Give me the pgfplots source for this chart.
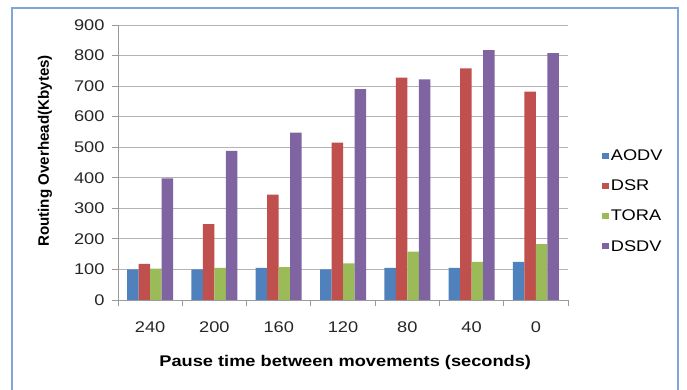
\documentclass[border=0pt]{standalone}
\usepackage{pgfplots}
\pgfplotsset{compat=1.18}
\usepackage{fontspec}
\setmainfont[FakeStretch=1.18]{Liberation Sans}
\newfontfamily\ylabfont{Liberation Sans}
\definecolor{aodv}{HTML}{4F81BD}
\definecolor{dsr}{HTML}{C0504D}
\definecolor{tora}{HTML}{9BBB59}
\definecolor{dsdv}{HTML}{8064A2}
\definecolor{framec}{HTML}{7EA6DA}
\definecolor{gridc}{HTML}{B4B4B4}
\definecolor{axisc}{HTML}{9A9A9A}
\begin{document}
\begin{tikzpicture}
\useasboundingbox (0bp,0bp) rectangle (687bp,390bp);
\draw[color=framec, line width=2.5bp] (12bp,-10bp) rectangle (678bp,382bp);
\begin{axis}[
  at={(118bp,90bp)}, anchor=south west,
  scale only axis, width=450bp, height=275bp,
  ybar=0pt, bar width=11.5bp,
  xmin=-0.5, xmax=6.5, ymin=0, ymax=900,
  ytick={0,100,...,900},
  xtick={-0.5,0.5,...,6.5}, xticklabels={},
  extra x ticks={0,1,2,3,4,5,6},
  extra x tick labels={240,200,160,120,80,40,0},
  extra x tick style={major tick length=0pt, grid=none},
  axis x line*=bottom, axis y line*=left,
  axis line style={color=axisc, line width=0.8bp},
  tick style={color=axisc, line width=0.8bp},
  tick align=outside, major tick length=6bp,
  ymajorgrids, grid style={color=gridc, line width=0.8bp},
  /pgf/number format/assume math mode=true,
  tick label style={font=\fontsize{15.5}{18}\selectfont, color=black!85},
  xticklabel style={yshift=-18bp},
  yticklabel style={xshift=-4bp},
  xlabel={Pause time between movements (seconds)},
  ylabel={Routing Overhead(Kbytes)},
  every axis x label/.style={at={(axis description cs:0.505,-0.226)}, anchor=center, font=\fontsize{15.5}{18}\selectfont\bfseries},
  every axis y label/.style={at={(axis description cs:-0.162,0.542)}, rotate=90, anchor=center, font=\ylabfont\fontsize{15.2}{18}\selectfont\bfseries},
  legend style={at={(axis description cs:1.076,0.36)}, anchor=west, draw=none, fill=none,
    font=\fontsize{15.5}{18}\selectfont, row sep=14bp, inner xsep=0pt,
    /tikz/every even column/.append style={column sep=0pt}},
  legend cell align=left,
  legend image code/.code={\fill[#1] (-4bp,-3bp) rectangle (2.5bp,3bp);},
]
\addplot[fill=aodv, draw=none] coordinates {(0,100) (1,100) (2,105) (3,100) (4,105) (5,105) (6,125)};
\addplot[fill=dsr, draw=none] coordinates {(0,118) (1,248) (2,345) (3,515) (4,728) (5,758) (6,682)};
\addplot[fill=tora, draw=none] coordinates {(0,103) (1,105) (2,108) (3,120) (4,158) (5,125) (6,183)};
\addplot[fill=dsdv, draw=none] coordinates {(0,398) (1,488) (2,548) (3,690) (4,722) (5,818) (6,808)};
\legend{AODV,DSR,TORA,DSDV}
\end{axis}
\end{tikzpicture}
\end{document}
